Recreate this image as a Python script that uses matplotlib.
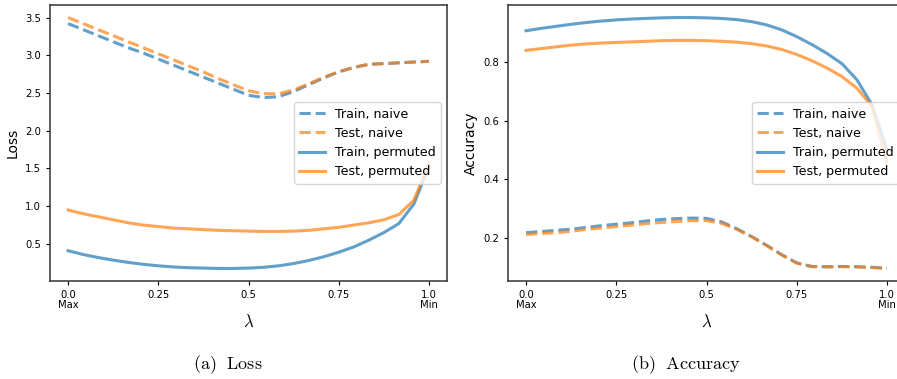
import matplotlib
matplotlib.use("Agg")
import matplotlib.pyplot as plt
import numpy as np

# interpolation coefficient grid (25 points)
lam = np.linspace(0, 1, 25)

# loss curves
loss_train_naive = [3.42, 3.34, 3.26, 3.18, 3.10, 3.03, 2.95, 2.87, 2.79, 2.71, 2.63, 2.55, 2.47,
                    2.44, 2.45, 2.52, 2.61, 2.70, 2.78, 2.84, 2.88, 2.89, 2.90, 2.91, 2.92]
loss_test_naive = [3.50, 3.42, 3.34, 3.26, 3.18, 3.10, 3.02, 2.94, 2.86, 2.78, 2.69, 2.61, 2.53,
                   2.49, 2.49, 2.54, 2.62, 2.71, 2.78, 2.84, 2.88, 2.89, 2.90, 2.91, 2.92]
loss_train_perm = [0.41, 0.36, 0.32, 0.285, 0.255, 0.23, 0.21, 0.195, 0.185, 0.18, 0.175, 0.175, 0.18,
                   0.19, 0.21, 0.24, 0.28, 0.33, 0.39, 0.46, 0.55, 0.65, 0.77, 1.03, 1.53]
loss_test_perm = [0.95, 0.90, 0.86, 0.82, 0.78, 0.75, 0.73, 0.71, 0.70, 0.69, 0.68, 0.675, 0.67,
                  0.665, 0.665, 0.67, 0.68, 0.70, 0.72, 0.75, 0.78, 0.82, 0.89, 1.08, 1.57]

# accuracy curves
acc_train_naive = [0.218, 0.222, 0.226, 0.230, 0.236, 0.242, 0.247, 0.252, 0.258, 0.263, 0.266, 0.268, 0.267,
                   0.255, 0.232, 0.205, 0.175, 0.143, 0.115, 0.103, 0.102, 0.103, 0.102, 0.100, 0.097]
acc_test_naive = [0.212, 0.215, 0.218, 0.223, 0.229, 0.234, 0.239, 0.244, 0.249, 0.253, 0.256, 0.259, 0.259,
                  0.250, 0.230, 0.204, 0.174, 0.142, 0.114, 0.102, 0.101, 0.102, 0.101, 0.099, 0.096]
acc_train_perm = [0.907, 0.915, 0.922, 0.929, 0.935, 0.940, 0.944, 0.947, 0.949, 0.951, 0.952, 0.952, 0.951,
                  0.949, 0.945, 0.938, 0.927, 0.910, 0.887, 0.860, 0.830, 0.795, 0.740, 0.655, 0.500]
acc_test_perm = [0.840, 0.846, 0.852, 0.858, 0.862, 0.865, 0.867, 0.869, 0.871, 0.873, 0.874, 0.874, 0.873,
                 0.871, 0.868, 0.863, 0.855, 0.843, 0.826, 0.805, 0.780, 0.751, 0.711, 0.649, 0.457]

xticks = [0, 0.25, 0.5, 0.75, 1.0]
xticklabels = ["0.0\nMax", "0.25", "0.5", "0.75", "1.0\nMin"]
labels = ["Train, naive", "Test, naive", "Train, permuted", "Test, permuted"]

plt.rcParams["mathtext.fontset"] = "cm"

fig = plt.figure(figsize=(8.97, 3.79), dpi=100)
ax1 = fig.add_axes([50 / 897, 1 - 281 / 379, 397 / 897, 276 / 379])
ax2 = fig.add_axes([508 / 897, 1 - 281 / 379, 397 / 897, 276 / 379])


def draw(ax, tn, ten, tp, tep, ylabel):
    ax.plot(lam, tn, "--", color="C0", lw=2.2, alpha=0.7, label=labels[0])
    ax.plot(lam, ten, "--", color="C1", lw=2.2, alpha=0.7, label=labels[1])
    ax.plot(lam, tp, "-", color="C0", lw=2.2, alpha=0.7, label=labels[2])
    ax.plot(lam, tep, "-", color="C1", lw=2.2, alpha=0.7, label=labels[3])
    ax.set_xticks(xticks)
    ax.set_xticklabels(xticklabels, fontsize=7.2, linespacing=0.95)
    ax.tick_params(axis="y", labelsize=7.2, length=3)
    ax.tick_params(axis="x", length=3)
    ax.set_xlabel(r"$\lambda$", fontsize=12, labelpad=2)
    ax.set_ylabel(ylabel, fontsize=10, labelpad=4)
    for sp in ax.spines.values():
        sp.set_linewidth(1.1)
        sp.set_color("#333333")
    ax.legend(loc="center right", fontsize=9.1, handlelength=2.0)


draw(ax1, loss_train_naive, loss_test_naive, loss_train_perm, loss_test_perm, "Loss")
ax1.set_yticks([0.5, 1.0, 1.5, 2.0, 2.5, 3.0, 3.5])
draw(ax2, acc_train_naive, acc_test_naive, acc_train_perm, acc_test_perm, "Accuracy")
ax2.set_yticks([0.2, 0.4, 0.6, 0.8])

fig.text(228 / 897, 1 - 365 / 379, r"$\mathrm{(a)\ \ Loss}$", fontsize=13, ha="center", va="center")
fig.text(686 / 897, 1 - 365 / 379, r"$\mathrm{(b)\ \ Accuracy}$", fontsize=13, ha="center", va="center")

fig.savefig("out.png", dpi=100)
